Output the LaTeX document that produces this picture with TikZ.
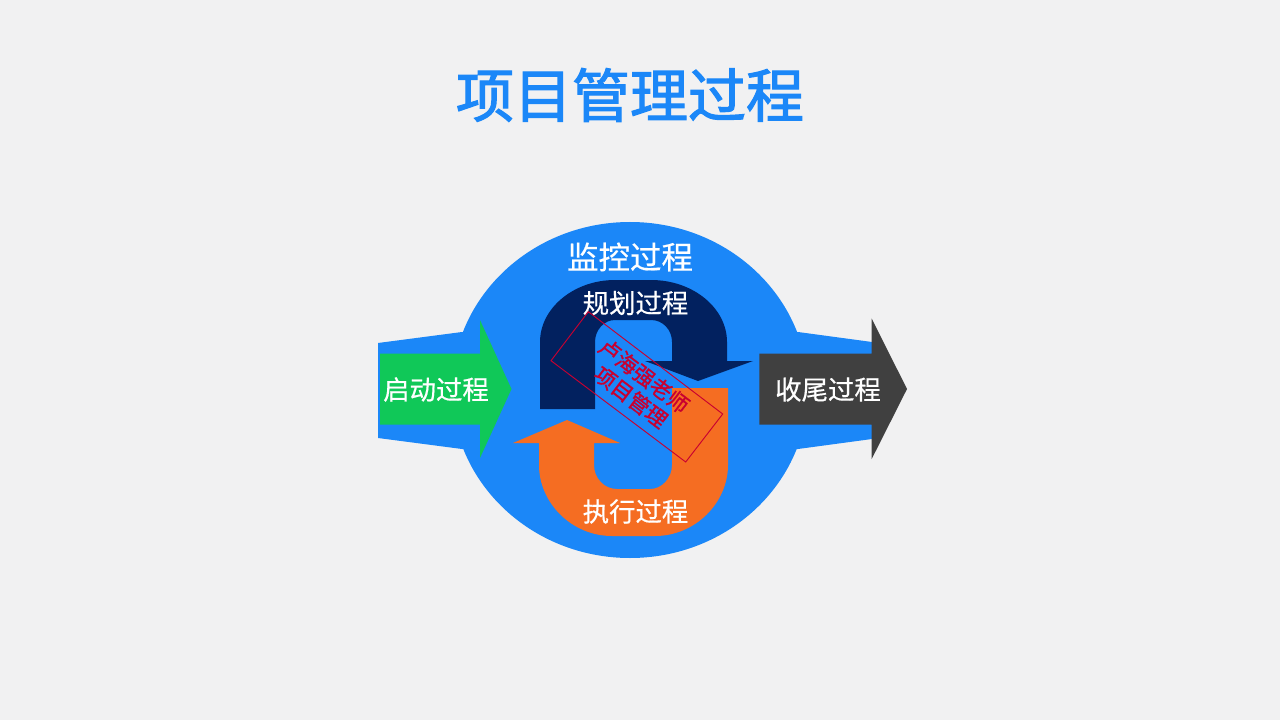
\documentclass[tikz,border=0pt]{standalone}
\usepackage{fontspec}
\setmainfont{Noto Sans CJK SC}
\newfontfamily\titlefont[FakeBold=2.0]{Noto Sans CJK SC}
\newfontfamily\labelfont[FakeBold=0.5]{Noto Sans CJK SC}
\newfontfamily\stampfont[FakeBold=1.1]{Noto Sans CJK SC}
\definecolor{bgc}{HTML}{F1F1F2}
\definecolor{bluec}{HTML}{1B87F8}
\definecolor{navyc}{HTML}{02215F}
\definecolor{orangec}{HTML}{F56D22}
\definecolor{greenc}{HTML}{10C858}
\definecolor{darkc}{HTML}{404040}
\definecolor{stampc}{HTML}{C80030}
\tikzset{
  label text/.style={text=white,inner sep=0pt,font=\labelfont\fontsize{19.8pt}{24pt}\selectfont},
  stamp text/.style={text=stampc,inner sep=0pt,rotate=-37.3,font=\stampfont\fontsize{16pt}{20pt}\selectfont},
}
\begin{document}
\begin{tikzpicture}[x=0.75pt,y=-0.75pt]
\useasboundingbox (0,0) rectangle (1280,720);
\fill[bgc] (0,0) rectangle (1280,720);
% blue body
\fill[bluec] (630,390) ellipse [x radius=178,y radius=168];
\fill[bluec] (378,343) -- (462,332) -- (798,332) -- (872,342) -- (872,439) -- (798,449) -- (462,449) -- (378,438) -- cycle;
% start arrow
\fill[greenc] (380,353.5) -- (480,353.5) -- (480,320) -- (511.5,389) -- (480,458) -- (480,424.5) -- (380,424.5) -- cycle;
% close arrow
\fill[darkc] (759.3,353.5) -- (871.7,353.5) -- (871.7,318.5) -- (907,389) -- (871.7,459) -- (871.7,424.5) -- (759.3,424.5) -- cycle;
% planning arrow
\fill[navyc] (540,409) -- (540,342) .. controls (540,308) and (574,280) .. (615,280) -- (651,280) .. controls (693,280) and (727,308) .. (727,342) -- (727,361) -- (753,361) -- (698,381) -- (645,361) -- (672,361) -- (672,342) .. controls (672,330) and (663,320) .. (651,320) -- (615,320) .. controls (604,320) and (595,330) .. (595,342) -- (595,409) -- cycle;
% executing arrow
\fill[orangec] (672,388) -- (728,388) -- (728,465) .. controls (728,503) and (695,536) .. (655,536) -- (612,536) .. controls (572,536) and (539,503) .. (539,465) -- (539,443) -- (513,443) -- (567,420) -- (620,443) -- (594,443) -- (594,465) .. controls (594,478) and (604,489) .. (617,489) -- (650,489) .. controls (662,489) and (672,478) .. (672,465) -- cycle;
% title
\node[text=bluec,inner sep=0pt,font=\titlefont\fontsize{43.5pt}{50pt}\selectfont] (title) at (630,95) {项目管理过程};
% labels
\node[label text,font=\labelfont\fontsize{23.6pt}{28pt}\selectfont] (monitor) at (630,257) {监控过程};
\node[label text] (plan) at (635.5,303) {规划过程};
\node[label text] (start) at (436,389.5) {启动过程};
\node[label text] (close) at (828,389.5) {收尾过程};
\node[label text] (exec) at (635.5,511.5) {执行过程};
% stamp
\draw[stampc,line width=0.7pt] (588.3,311.7) -- (722.7,414) -- (685.7,462) -- (551,360.7) -- cycle;
\node[stamp text] (stampa) at (644,376) {卢海强老师};
\node[stamp text] (stampb) at (631,397) {项目管理};
\end{tikzpicture}
\end{document}
